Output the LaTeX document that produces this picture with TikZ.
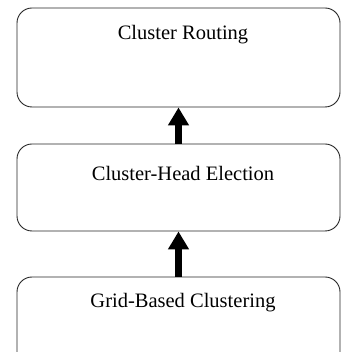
\documentclass[tikz,border=0pt]{standalone}
\usepackage{fontspec}
\setmainfont{Liberation Serif}
\usetikzlibrary{arrows.meta}
\begin{document}
\begin{tikzpicture}[x=1pt,y=1pt,
  stage/.style={draw=black!85, line width=0.9pt, rounded corners=15pt, minimum width=323pt, inner sep=0pt},
  label/.style={font=\fontsize{20.5}{24}\selectfont, inner sep=0pt},
  flow/.style={line width=6.5pt, -{Triangle[width=20pt,length=18pt]}}]
\useasboundingbox (0,0) rectangle (341,352);
\clip (0,0) rectangle (341,352);
\node[stage, minimum height=99pt] (b1) at (178.5,294.5) {};
\node[stage, minimum height=87pt] (b2) at (178.5,164.5) {};
\node[stage, minimum height=99pt] (b3) at (178.5,25.5) {};
\node[label] (t1) at (183,317) {Cluster Routing};
\node[label] (t2) at (183,179) {Cluster-Head Election};
\node[label] (t3) at (183,49) {Grid-Based Clustering};
\draw[flow] (b2.north) -- (b1.south);
\draw[flow] (b3.north) -- (b2.south);
\end{tikzpicture}
\end{document}
